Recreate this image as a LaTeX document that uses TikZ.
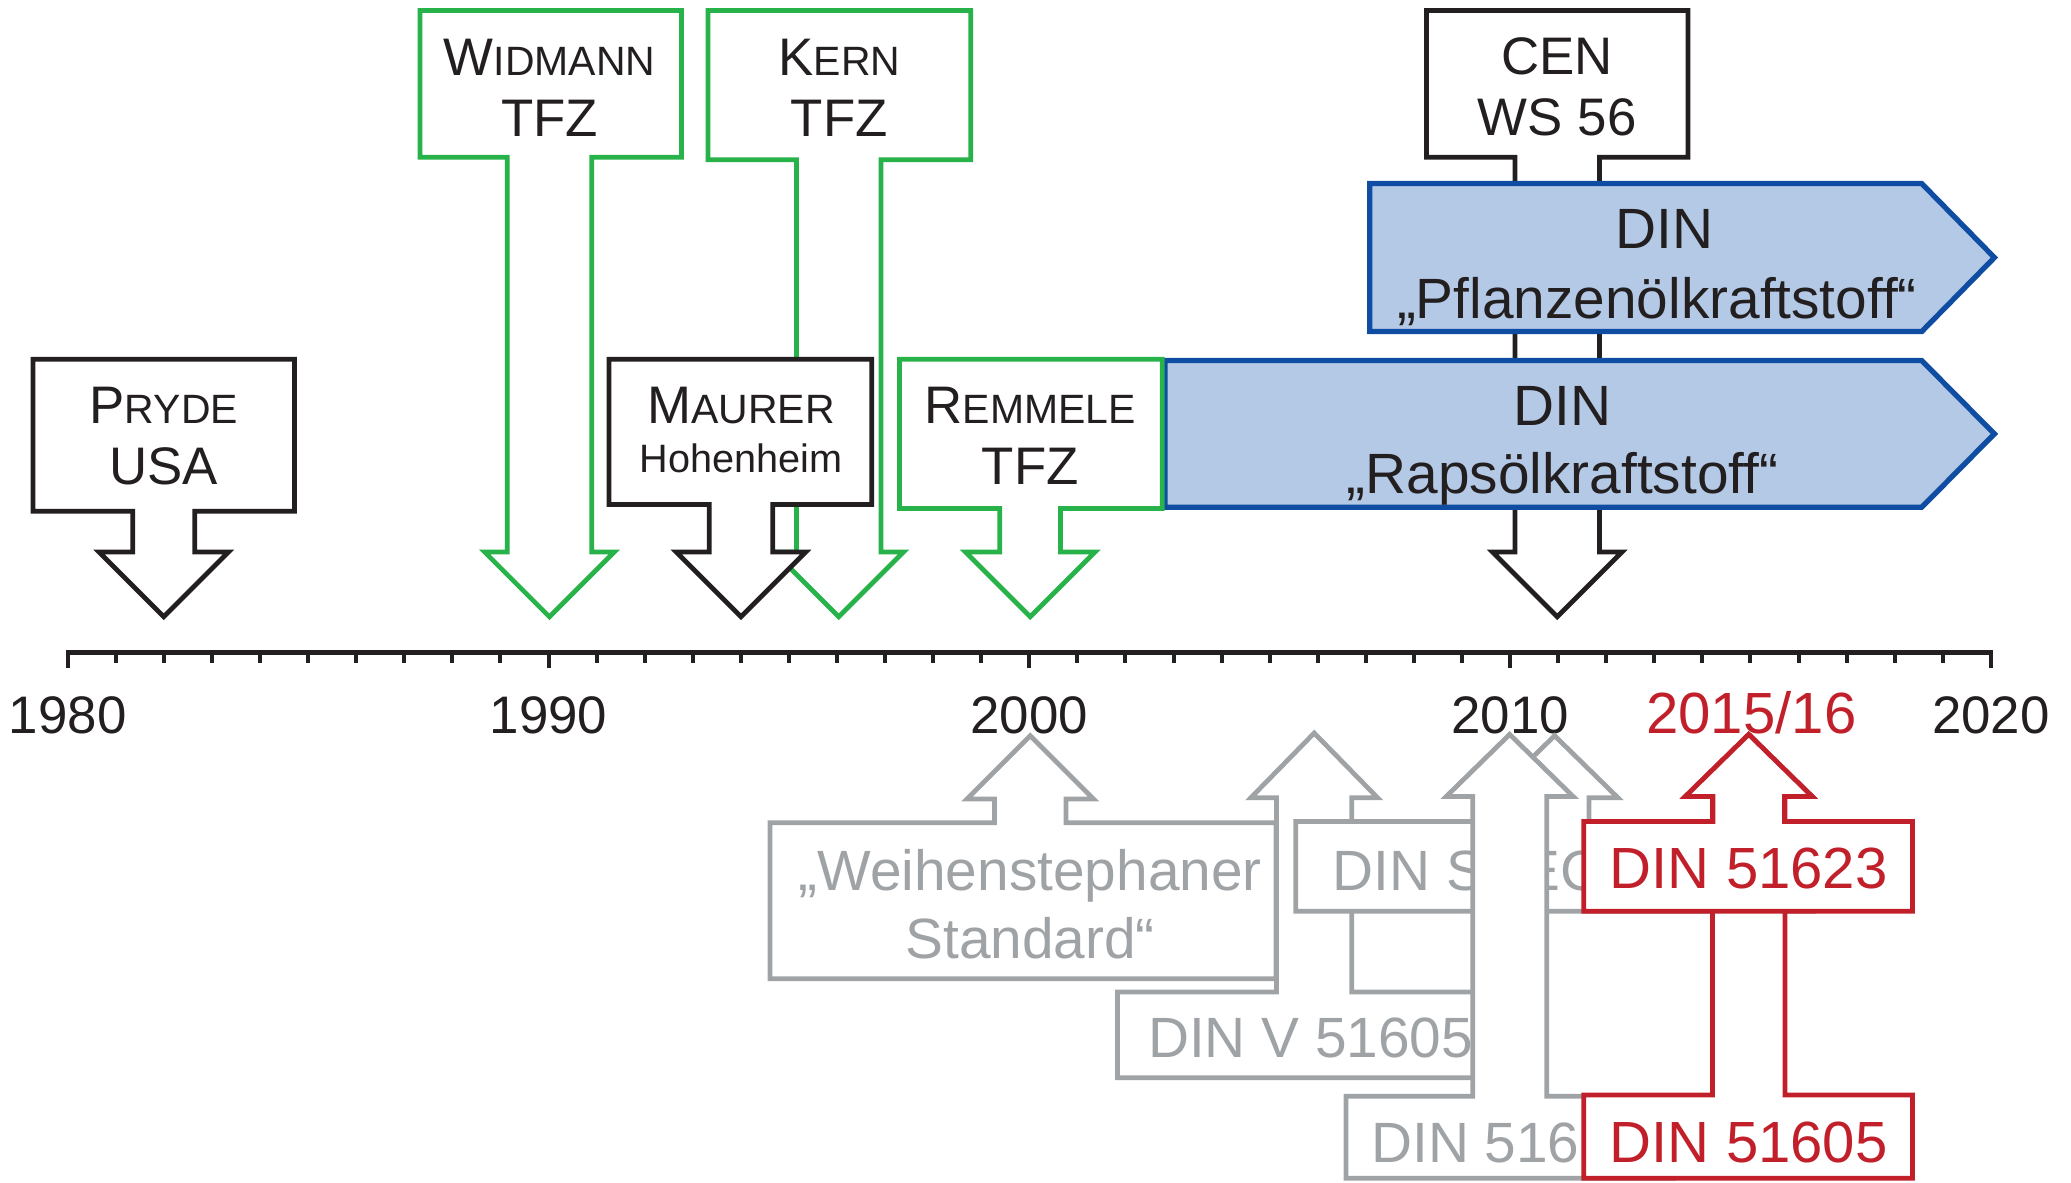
\documentclass[tikz,border=0pt]{standalone}
\usepackage{fontspec}
\setmainfont{Liberation Sans}
\definecolor{cblack}{RGB}{35,31,32}
\definecolor{cgreen}{RGB}{40,178,74}
\definecolor{cblue}{RGB}{14,77,161}
\definecolor{cbluefill}{RGB}{179,201,230}
\definecolor{cgray}{RGB}{160,163,166}
\definecolor{cred}{RGB}{193,32,43}
\newcommand{\fsc}[2]{#1{\fontsize{31}{31}\selectfont #2}}
% down arrow callout: style, x1,y1,x2,y2, cx, stem half, head base, tip y
\newcommand{\dnarrow}[9]{\draw[#1] (#2,#3) -- (#4,#3) -- (#4,#5) -- ({#6+#7},#5) -- ({#6+#7},#8) -- ({#6+49},#8) -- (#6,#9) -- ({#6-49},#8) -- ({#6-#7},#8) -- ({#6-#7},#5) -- (#2,#5) -- cycle;}
% up arrow callout: style, x1,y1,x2,y2, cx, stem half, head base, tip y
\newcommand{\uparrowbox}[9]{\draw[#1] (#2,#3) -- ({#6-#7},#3) -- ({#6-#7},#8) -- ({#6-48},#8) -- (#6,#9) -- ({#6+48},#8) -- ({#6+#7},#8) -- ({#6+#7},#3) -- (#4,#3) -- (#4,#5) -- (#2,#5) -- cycle;}
\tikzset{
  blk/.style={draw=cblack, fill=white, line width=3.6pt},
  grn/.style={draw=cgreen, fill=white, line width=3.6pt},
  gry/.style={draw=cgray, fill=white, line width=3.6pt},
  rd/.style={draw=cred, fill=white, line width=3.6pt},
  bl/.style={draw=cblue, fill=cbluefill, line width=4pt},
  lbl/.style={inner sep=0pt, anchor=base, text=cblack, font=\fontsize{40}{48}\selectfont},
  big/.style={lbl, font=\fontsize{43}{50}\selectfont},
  yr/.style={lbl, font=\fontsize{40}{48}\selectfont},
  glbl/.style={inner sep=0pt, anchor=base, text=cgray, font=\fontsize{43}{50}\selectfont},
  rlbl/.style={inner sep=0pt, anchor=base, text=cred, font=\fontsize{44}{50}\selectfont},
}
\begin{document}
\begin{tikzpicture}[x=1pt,y=-1pt]
\useasboundingbox (0,0) rectangle (1568,895);
\clip (0,0) rectangle (1568,895);
% ---------- axis ----------
\draw[cblack, line width=3.3pt] (49.8,494) -- (1508.8,494);
\foreach \i in {0,...,40}{
  \pgfmathsetmacro{\xx}{51.3+36.4*\i}
  \pgfmathsetmacro{\ll}{ifthenelse(mod(\i,10)==0,506,502)}
  \draw[cblack, line width=3pt] (\xx,494) -- (\xx,\ll);
}
\node[yr] (y1980) at (51.3,555) {1980};
\node[yr] (y1990) at (415.3,555) {1990};
\node[yr] (y2000) at (779.3,555) {2000};
\node[yr] (y2010) at (1143.3,555) {2010};
\node[rlbl] (y2015) at (1326,555) {2015/16};
\node[yr] (y2020) at (1507.3,555) {2020};
% ---------- top callouts ----------
\dnarrow{blk}{25}{272}{223}{387}{124}{23.5}{418}{467}
\node[lbl] (pryde) at (124,320.5) {\fsc{P}{RYDE}};
\node[lbl] (usa) at (124,366.5) {USA};
\dnarrow{grn}{318}{8}{516}{119}{416}{32}{418}{467}
\node[lbl] (widmann) at (416,57) {\fsc{W}{IDMANN}};
\node[lbl] (tfz1) at (416,103) {TFZ};
\dnarrow{grn}{536}{8}{735}{121}{635}{32}{418}{467}
\node[lbl] (kern) at (635.5,57) {\fsc{K}{ERN}};
\node[lbl] (tfz2) at (635.5,103) {TFZ};
\dnarrow{blk}{461}{272}{660}{382}{561}{24}{418}{467}
\node[lbl] (maurer) at (561,320.5) {\fsc{M}{AURER}};
\node[lbl, font=\fontsize{30}{36}\selectfont] (hohen) at (561,358) {Hohenheim};
\dnarrow{blk}{1080}{8}{1278}{119}{1179}{32}{418}{467}
\node[lbl] (cen) at (1179,56.5) {CEN};
\node[lbl] (ws) at (1179,102.5) {WS 56};
% blue DIN bars
\draw[bl] (882,273) -- (1455,273) -- (1510,328.5) -- (1455,384) -- (882,384) -- cycle;
\node[big] (din2) at (1183,322) {DIN};
\node[big] (raps) at (1183,373.5) {„Rapsölkraftstoff“};
\draw[bl] (1037,139) -- (1455,139) -- (1510,195) -- (1455,251) -- (1037,251) -- cycle;
\node[big] (din1) at (1260,188.5) {DIN};
\node[big] (pfl) at (1254.5,241) {„Pflanzenölkraftstoff“};
\dnarrow{grn}{681}{272}{880}{385}{780}{23}{418}{467}
\node[lbl] (remmele) at (780,320.5) {\fsc{R}{EMMELE}};
\node[lbl] (tfz3) at (780,367) {TFZ};
% ---------- bottom callouts ----------
\uparrowbox{gry}{846}{751}{1146}{816}{995}{28.5}{604}{555}
\node[glbl, anchor=base west] (dinv) at (869,801) {DIN V 51605};
\uparrowbox{gry}{583}{623}{966}{741}{780}{27}{605}{557}
\node[glbl] (weih1) at (780,674.5) {„Weihenstephaner};
\node[glbl] (weih2) at (780,725.5) {Standard“};
\uparrowbox{gry}{981}{622}{1373}{690}{1177}{26}{604}{557}
\node[glbl, anchor=base west] (dinspec) at (1009,674) {DIN SPEC};
\uparrowbox{gry}{1019}{830}{1267}{892}{1143}{28}{603}{556}
\node[glbl, anchor=base west] (din2010) at (1038,880) {DIN 516};
\uparrowbox{rd}{1199}{829}{1448}{892}{1324}{27.5}{603}{556}
\node[rlbl] (din51605) at (1324,880) {DIN 51605};
\uparrowbox{rd}{1199}{622}{1448}{690}{1324}{27}{603}{556}
\node[rlbl] (din51623) at (1324,673) {DIN 51623};
\end{tikzpicture}
\end{document}
